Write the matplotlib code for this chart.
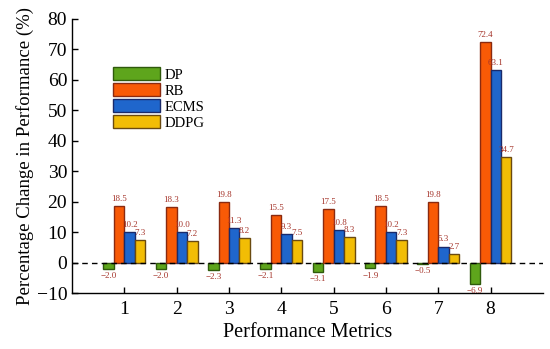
import numpy as np
import matplotlib.pyplot as plt

plt.rcParams['font.family'] = ['Liberation Serif', 'DejaVu Serif']

metrics = [1, 2, 3, 4, 5, 6, 7, 8]
dp = [-2.0, -2.0, -2.3, -2.1, -3.1, -1.9, -0.5, -6.9]
rb = [18.5, 18.3, 19.8, 15.5, 17.5, 18.5, 19.8, 72.4]
ecms = [10.2, 10.0, 11.3, 9.3, 10.8, 10.2, 5.3, 63.1]
ddpg = [7.3, 7.2, 8.2, 7.5, 8.3, 7.3, 2.7, 34.7]

series = [('DP', dp, '#5ea51c', '#2f5a0c'),
          ('RB', rb, '#f85a06', '#8a2a10'),
          ('ECMS', ecms, '#1f66cc', '#1a2a6a'),
          ('DDPG', ddpg, '#f2bd05', '#6a4a10')]

fig = plt.figure(figsize=(5.5, 3.49), dpi=100)
ax = fig.add_axes([0.131, 0.160, 0.856, 0.786])

x = np.array(metrics)
w = 0.2
for i, (name, vals, fc, ec) in enumerate(series):
    pos = x + (i - 1.5) * w
    ax.bar(pos, vals, width=w, color=fc, edgecolor=ec, linewidth=1.0, label=name)
    for p, v in zip(pos, vals):
        if v >= 0:
            ax.text(p, v + 1.0, f'{v:.1f}', ha='center', va='bottom', fontsize=6.5, color='#a5352b')
        else:
            ax.text(p, v - 1.0, f'\u2212{abs(v):.1f}', ha='center', va='top', fontsize=6.5, color='#a5352b')

ax.axhline(0, color='black', linestyle='--', linewidth=1.0, dashes=(4, 3))

ax.set_xlim(0, 9)
ax.set_ylim(-10, 80)
ax.set_xticks(metrics)
ax.set_yticks(range(-10, 81, 10))
ax.set_yticklabels(['\u221210'] + [str(t) for t in range(0, 81, 10)])
ax.tick_params(direction='in', labelsize=14, length=4, width=1)
ax.tick_params(axis='x', pad=6)
ax.spines['top'].set_visible(False)
ax.spines['right'].set_visible(False)
ax.spines['left'].set_linewidth(1.0)
ax.spines['bottom'].set_linewidth(1.0)

ax.set_xlabel('Performance Metrics', fontsize=14.5, labelpad=3)
ax.set_ylabel('Percentage Change in Performance (%)', fontsize=13.5, labelpad=2)

ax.legend(loc='upper left', bbox_to_anchor=(0.075, 0.845), frameon=False, fontsize=10.5,
          handlelength=3.2, handleheight=1.0, labelspacing=0.1, handletextpad=0.3,
          borderaxespad=0)

fig.savefig('out.png', dpi=100)
